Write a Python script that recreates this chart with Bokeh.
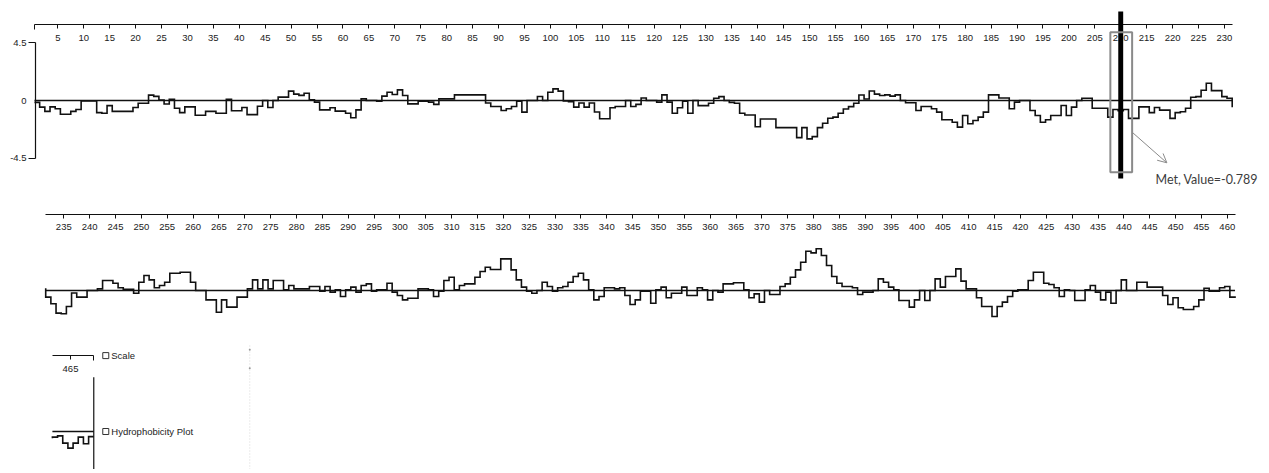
import numpy as np
from bokeh.plotting import figure
from bokeh.models import Range1d, LinearAxis, FixedTicker, Arrow, OpenHead
from bokeh.core.properties import value
from bokeh.embed import file_html
from bokeh.resources import INLINE

# ---------------- data (hydropathy values) ----------------
row1_start = 1
row1_values = [
    -0.15, -0.52, -0.85, -0.5, -0.65, -1.08, -1.08, -0.85, -0.7, -0.03,
    -0.03, -0.03, -0.95, -1.0, -0.4, -0.85, -0.85, -0.85, -0.85, -0.55,
    -0.22, -0.22, 0.42, 0.32, 0.03, -0.27, 0.1, -0.6, -0.95, -0.5,
    -0.5, -1.15, -1.15, -0.85, -0.85, -1.0, -1.0, 0.1, -0.8, -0.8,
    -0.55, -1.1, -1.1, -0.45, 0.0, -0.55, 0.0, 0.26, 0.26, 0.73,
    0.5, 0.4, 0.57, 0.05, -0.13, -0.73, -0.73, -0.57, -0.83, -0.83,
    -1.0, -1.35, -0.73, 0.13, 0.0, 0.0, -0.05, 0.34, 0.65, 0.47,
    0.83, 0.39, -0.26, -0.26, -0.05, -0.05, -0.13, -0.3, 0.13, 0.13,
    0.13, 0.44, 0.44, 0.44, 0.44, 0.44, 0.44, -0.2, -0.47, -0.47,
    -0.78, -0.65, -0.47, -0.05, -0.91, 0.0, 0.0, 0.31, 0.0, 0.65,
    0.91, 0.73, -0.03, -0.1, -0.52, -0.2, -0.52, -0.2, -0.9, -1.43,
    -1.43, -0.57, -0.47, -0.47, 0.0, -0.47, -0.3, 0.2, 0.0, 0.0,
    -0.13, 0.44, -0.13, -1.0, -0.57, -0.05, -1.0, 0.0, -0.4, -0.4,
    -0.22, 0.17, 0.3, 0.0, -0.15, -0.22, -1.0, -1.13, -1.13, -2.05,
    -1.45, -1.45, -1.45, -2.12, -2.12, -2.12, -2.12, -2.9, -2.12, -3.0,
    -2.82, -2.12, -1.78, -1.39, -1.3, -1.0, -0.66, -0.48, -0.22, 0.43,
    0.12, 0.74, 0.5, 0.39, 0.44, 0.34, 0.44, 0.0, -0.18, -0.18,
    -0.78, -0.47, -0.47, -0.65, -0.91, -1.5, -1.5, -1.7, -2.08, -1.17,
    -1.82, -1.56, -1.3, -0.91, 0.44, 0.44, 0.2, 0.2, -0.65, -0.13,
    0.0, 0.0, -0.78, -1.17, -1.7, -1.5, -1.17, -1.17, -0.39, -1.17,
    -0.52, 0.0, 0.18, 0.18, -0.6, -0.6, -0.6, -1.3, -0.7, -0.789,
    -0.7, -1.4, -1.4, -0.5, -0.5, -0.95, -0.55, -0.75, -0.75, -1.4,
    -0.95, -0.88, -0.6, 0.25, 0.3, 0.8, 1.35, 0.77, 0.77, 0.3, 0.17,
]
row2_start = 232
row2_values = [
    -0.52, -1.04, -1.77, -1.82, -1.25, -0.2, -0.52, -0.52, 0.0, 0.0,
    0.13, 0.78, 0.78, 0.57, 0.21, 0.1, 0.1, -0.21, 0.65, 1.17,
    0.83, 0.21, 0.39, 0.65, 1.35, 1.35, 1.43, 1.43, 0.65, 0.0,
    0.0, -0.73, -0.73, -1.7, -0.73, -1.3, -1.3, -0.52, -0.52, 0.13,
    0.83, 0.13, 0.83, 0.13, 0.78, 0.78, 0.05, 0.39, 0.13, 0.13,
    0.13, 0.31, 0.31, -0.05, 0.31, -0.13, 0.05, -0.47, 0.05, 0.26,
    -0.13, 0.39, 0.52, -0.05, 0.05, 0.05, 0.57, -0.13, -0.39, -0.73,
    -0.6, -0.6, 0.13, 0.13, 0.05, -0.47, -0.05, 0.78, 1.04, 0.05,
    0.39, 0.52, 0.52, 1.04, 1.48, 1.82, 1.64, 1.64, 2.47, 2.47,
    1.61, 0.83, 0.26, -0.05, -0.21, 0.0, 0.65, 0.31, -0.05, 0.21,
    0.31, 0.65, 1.09, 1.35, 0.83, 0.05, -0.73, -0.47, 0.21, 0.21,
    0.13, 0.21, -0.39, -1.09, -0.73, -0.05, -0.05, -1.0, 0.05, 0.26,
    -0.57, -0.21, -0.21, 0.26, -0.39, -0.39, 0.21, 0.05, -0.73, 0.0,
    -0.13, 0.52, 0.52, 0.6, 0.6, 0.05, -0.57, -0.26, -0.91, 0.0,
    -0.31, -0.31, 0.31, 0.52, 1.04, 1.61, 2.21, 3.07, 2.94, 3.26,
    2.73, 1.95, 1.09, 0.57, 0.31, 0.31, 0.21, -0.31, -0.13, -0.13,
    0.0, 0.91, 0.65, 0.26, 0.05, -0.78, -0.78, -1.3, -0.73, 0.0,
    -0.78, 0.0, 0.91, 0.26, 1.09, 1.09, 1.69, 0.73, 0.13, 0.13,
    -0.57, -1.25, -1.25, -2.03, -1.25, -0.91, -0.47, -0.05, 0.05, 0.05,
    0.78, 1.43, 1.43, 0.57, 0.47, 0.21, -0.47, 0.05, 0.0, -0.78,
    -0.78, 0.05, 0.39, -0.13, -0.73, -0.13, -1.0, 0.0, 0.83, 0.0,
    0.0, 0.65, 0.65, 0.26, 0.26, 0.26, -0.39, -1.09, -0.57, -1.35,
    -1.48, -1.48, -1.25, -0.73, 0.18, -0.05, -0.05, 0.21, 0.31, -0.52,
]
row3_start = 462
row3_values = [-0.44, -0.34, -0.91, -1.3, -0.91, -0.44, -0.96, -0.4]

row1_ticks = list(range(5, 231, 5))
row2_ticks = list(range(235, 461, 5))
row3_ticks = [465]
y_ticks = [-4.5, 4.5]
y_tick_labels = ["-4.5", "4.5"]
y_zero_label = "0"

selected_residue = 210
selected_name = "Met"
selected_value = -0.789
legend_labels = ["Scale", "Hydrophobicity Plot"]

assert len(row1_values) == 231 and len(row2_values) == 230

# ---------------- layout constants (pixels) ----------------
W, H, M = 1265, 469, 0
UNIT = 12.8          # px per hydropathy unit
AXIS_V = 5.93        # ruler line height in hydropathy units above zero
TICK_FONT = "Liberation Sans"
FS = "9.5px"
INK = "#111111"

rows = [
    dict(start=row1_start, vals=row1_values, ticks=row1_ticks, ref_res=5, ref_px=57.3, ppr=5.185, zero_px=100.0,
         minor="lo"),
    dict(start=row2_start, vals=row2_values, ticks=row2_ticks, ref_res=235, ref_px=63.3, ppr=5.171, zero_px=290.0,
         minor=None),
    dict(start=row3_start, vals=row3_values, ticks=row3_ticks, ref_res=465, ref_px=70.0, ppr=5.171, zero_px=431.0,
         minor="hi"),
]

p = figure(width=W, height=H, output_backend="svg", toolbar_location=None,
           x_range=Range1d(0, W), y_range=Range1d(0, H),
           x_axis_location=None, y_axis_location=None, min_border=0)
p.outline_line_color = None
p.background_fill_color = "white"
p.border_fill_color = "white"
p.grid.visible = False

xr, yr = {}, {}
for i, r in enumerate(rows):
    xn, yn = f"x{i+1}", f"y{i+1}"
    xr[xn] = Range1d(r["ref_res"] + (M - r["ref_px"]) / r["ppr"], r["ref_res"] + (M + W - r["ref_px"]) / r["ppr"])
    yr[yn] = Range1d((r["zero_px"] - (M + H)) / UNIT, (r["zero_px"] - M) / UNIT)
    r["xn"], r["yn"] = xn, yn
    r["lo"] = r["start"] - 0.5
    r["hi"] = r["start"] + len(r["vals"]) - 0.5
p.extra_x_ranges = xr
p.extra_y_ranges = yr


def step_path(first, vals, prev=None, nxt=None):
    xs, ys = [], []
    if prev is not None:
        xs.append(first - 0.5); ys.append(prev)
    for k, v in enumerate(vals):
        xs += [first + k - 0.5, first + k + 0.5]
        ys += [v, v]
    if nxt is not None:
        xs.append(first + len(vals) - 0.5); ys.append(nxt)
    return xs, ys


for i, r in enumerate(rows):
    kw = dict(x_range_name=r["xn"], y_range_name=r["yn"])
    minor = []
    if r["minor"] == "lo":
        minor = [r["lo"] + 0.01]
    elif r["minor"] == "hi":
        minor = [r["hi"] - 0.01]
    ax = LinearAxis(fixed_location=AXIS_V, bounds=(r["lo"], r["hi"]),
                    ticker=FixedTicker(ticks=r["ticks"], minor_ticks=minor), **kw)
    ax.axis_line_color = INK
    ax.axis_line_width = 1.2
    ax.major_tick_in, ax.major_tick_out = 0, 4
    ax.minor_tick_in, ax.minor_tick_out = 0, 5
    ax.major_tick_line_color = INK
    ax.minor_tick_line_color = INK
    ax.major_label_text_font = TICK_FONT
    ax.major_label_text_font_size = FS
    ax.major_label_text_color = "#222222"
    ax.major_label_standoff = 5
    p.add_layout(ax, "below")
    # zero line
    p.line([r["lo"], r["hi"]], [0, 0], line_color=INK, line_width=1.3, **kw)
    # hydropathy trace
    prev = rows[i - 1]["vals"][-1] if i > 0 else None
    nxt = rows[i + 1]["vals"][0] if i + 1 < len(rows) else None
    xs, ys = step_path(r["start"], r["vals"], prev, nxt)
    p.line(xs, ys, line_color=INK, line_width=1.6, line_join="miter", **kw)

# left value axis (row 1)
r1 = rows[0]
yax = LinearAxis(x_range_name="x1", y_range_name="y1", fixed_location=r1["lo"] + 0.2, bounds=(y_ticks[0], y_ticks[-1]),
                 ticker=FixedTicker(ticks=y_ticks, minor_ticks=[]),
                 major_label_overrides={t: s for t, s in zip(y_ticks, y_tick_labels)})
yax.axis_line_color = INK
yax.axis_line_width = 1.2
yax.major_tick_in, yax.major_tick_out = 0, 7
yax.major_tick_line_color = INK
yax.major_label_text_font = TICK_FONT
yax.major_label_text_font_size = FS
yax.major_label_text_color = "#222222"
yax.major_label_standoff = 2
p.add_layout(yax, "left")

zax = LinearAxis(x_range_name="x1", y_range_name="y1", fixed_location=r1["lo"] + 0.2, bounds=(-1, 1),
                 ticker=FixedTicker(ticks=[0], minor_ticks=[]), major_label_overrides={0: y_zero_label})
zax.axis_line_color = None
zax.major_tick_line_color = None
zax.major_tick_in, zax.major_tick_out = 0, 7
zax.major_label_text_font = TICK_FONT
zax.major_label_text_font_size = FS
zax.major_label_text_color = "#222222"
zax.major_label_standoff = 2
p.add_layout(zax, "left")

# selection marker in row 1
top_v = (r1["zero_px"] - 11) / UNIT
bot_v = (r1["zero_px"] - 178) / UNIT
bar = p.vbar(x=[selected_residue], width=0.95, top=[top_v], bottom=[bot_v],
             fill_color="black", line_color=None, x_range_name="x1", y_range_name="y1")
bar.level = "overlay"
box = p.quad(left=[selected_residue - 2.0], right=[selected_residue + 2.2],
             top=[(r1["zero_px"] - 31.7) / UNIT], bottom=[(r1["zero_px"] - 171.7) / UNIT],
             fill_color=None, line_color="#8a8a8a", line_width=2, x_range_name="x1", y_range_name="y1")
box.level = "overlay"
arrow = Arrow(x_start=selected_residue + 2.2, y_start=(r1["zero_px"] - 131.7) / UNIT,
              x_end=selected_residue + 8.9, y_end=(r1["zero_px"] - 162.3) / UNIT,
              line_color="#8a8a8a", line_width=1,
              end=OpenHead(size=9, line_color="#8a8a8a", line_width=1),
              x_range_name="x1", y_range_name="y1", level="overlay")
p.add_layout(arrow)
p.text(x=[selected_residue + 6.7], y=[(r1["zero_px"] - 179) / UNIT],
       text=[f"{selected_name}, Value={selected_value}"],
       text_font=value("Lato"), text_font_size="12.5px", text_color="#3c3c3c",
       text_baseline="middle", text_align="left", x_range_name="x1", y_range_name="y1")

# row 3 end marker, legend and faint divider
r3 = rows[2]
p.segment(x0=[r3["hi"]], y0=[(r3["zero_px"] - 376.7) / UNIT], x1=[r3["hi"]], y1=[yr["y3"].start],
          line_color=INK, line_width=1.2, x_range_name="x3", y_range_name="y3")
box_x = r3["hi"] + 12.0 / r3["ppr"]
txt_x = r3["hi"] + 17.5 / r3["ppr"]
leg_y = [AXIS_V, 0.0]
p.scatter(x=[box_x] * 2, y=leg_y, marker="square", size=6, fill_color="white", line_color="#333333",
          line_width=1, x_range_name="x3", y_range_name="y3")
p.text(x=[txt_x] * 2, y=leg_y, text=legend_labels, text_font=value("Liberation Sans"), text_font_size="9.5px",
       text_color="#222222", text_baseline="middle", text_align="left", x_range_name="x3", y_range_name="y3")
div_x = r3["hi"] + 156.0 / r3["ppr"]
p.segment(x0=[div_x], y0=[(r3["zero_px"] - 345) / UNIT], x1=[div_x], y1=[yr["y3"].start],
          line_color="#d8d8d8", line_width=1, line_dash="1 2", x_range_name="x3", y_range_name="y3")
p.scatter(x=[div_x] * 2, y=[(r3["zero_px"] - 349.3) / UNIT, (r3["zero_px"] - 367.7) / UNIT],
          size=2, fill_color="#999999", line_color=None, x_range_name="x3", y_range_name="y3")

open("out.html", "w").write(file_html(p, INLINE))
